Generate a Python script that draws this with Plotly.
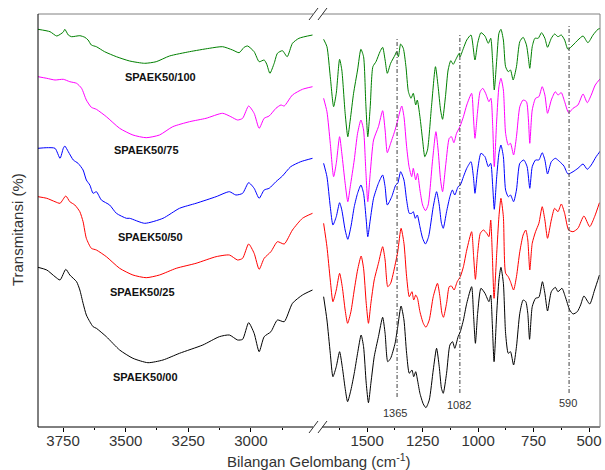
import plotly.graph_objects as go

# ---------------- data (wavenumber cm-1, relative transmittance, stacked) ----------------
# high-wavenumber panel (3850-2750)
wn_100_hi = [3850,3802,3775,3749,3743,3729,3716,3683,3663,3650,3637,3617,3584,3537,3484,3424,3378,3325,3245,3166,3113,3073,3047,3027,3013,2987,2967,2947,2937,2924,2907,2894,2874,2855,2834,2808,2754]
t_100_hi = [397.7,395.3,391,395,397.7,392,390.3,391.3,389.7,387,382,380.3,375.3,370.3,366,363.7,365.3,371,375.3,378.7,380.3,377,374.3,379.7,381,375.3,365.3,367,363,353.7,363.7,373.7,376.3,370.3,383.7,388.7,392]

wn_75_hi = [3850,3815,3782,3749,3723,3696,3676,3657,3637,3617,3577,3524,3471,3418,3365,3312,3245,3179,3113,3080,3053,3033,3009,2987,2967,2947,2927,2900,2880,2867,2834,2794,2754]
t_75_hi = [350.3,348.7,347,347.7,345.3,343.7,338.7,327,319.7,317.7,310.3,298.7,292,289.3,292,300.3,305.3,308.7,313.7,310.3,307,308.7,321,313.7,298.7,308.7,311,318.7,322,321,332,337.7,340.3]

wn_50_hi = [3850,3815,3782,3762,3749,3743,3729,3709,3690,3670,3657,3643,3630,3617,3597,3564,3537,3497,3484,3424,3351,3285,3219,3139,3086,3060,3033,3009,2987,2967,2947,2927,2900,2874,2841,2801,2754]
t_50_hi = [278.7,279.3,278.7,268.7,278.7,281,275.3,267,263.7,257,247,242,233.7,235.3,227,222,213.7,208.7,208.7,203.7,208.7,218.7,223.7,230.3,235.3,232,233.7,244.3,238.7,228.7,237,238.7,245.3,251,260.3,265.3,268.7]

wn_25_hi = [3850,3815,3782,3762,3739,3723,3703,3683,3670,3657,3637,3617,3577,3524,3471,3418,3365,3298,3219,3139,3086,3053,3033,3009,2987,2967,2947,2920,2894,2867,2834,2794,2754]
t_25_hi = [230.3,228.7,225.3,223.7,231,225.3,222,215.3,205.3,188.7,178.7,177,170.3,158.7,152,149.3,152,158.7,163.7,170.3,172,167,168.7,183,173.7,157.7,168.7,175.3,185.3,183,197,208.7,213.7]

wn_00_hi = [3850,3815,3782,3762,3739,3723,3696,3683,3670,3657,3643,3630,3617,3577,3524,3471,3411,3351,3285,3192,3126,3086,3053,3033,3009,2987,2967,2947,2920,2894,2867,2834,2794,2754]
t_00_hi = [159.7,157,150.3,147,157.7,152,145.3,137,123.7,112,105.3,100.3,98.7,90.3,77,68.7,64.3,67,73.7,82,90.3,92,87,87.7,104.3,93.7,75.3,90.3,95.3,107,105.3,123.7,132,137]

# low-wavenumber panel (1700-450)
wn_100_lo = [1696,1681,1666,1651,1639,1624,1614,1599,1587,1576,1561,1543,1528,1516,1506,1497,1486,1474,1460,1442,1430,1419,1409,1394,1374,1367,1359,1349,1337,1325,1314,1302,1292,1281,1274,1262,1250,1240,1228,1210,1192,1180,1169,1160,1147,1135,1123,1112,1100,1085,
             1081,1066,1051,1032,1014,1002,987,969,954,943,934,927,916,906,897,886,876,864,854,842,827,812,797,782,774,767,756,744,729,714,699,687,670,655,640,625,610,595,572,550,527,505,482,460,448]
t_100_lo = [387.7,380.3,350.3,320.3,333.7,367.7,357,313.7,290.3,307,333.7,357,377.7,370.3,323.7,290.3,320.3,360.3,365.3,375.3,379.7,367,353.7,363.7,372,375.3,370.3,383,378.7,360.3,335.3,328.7,333.7,322,327,310.3,287,270.3,277,320.3,360.3,340.3,317,307.7,330.3,357,366.3,362.7,367.7,373.7,
            370.3,378.7,387,392,367,383.7,394.3,391,383.7,388.7,363.7,337,367,393.7,397.7,387,360.3,355.3,357,347,360.3,385.3,389.7,382,370.3,358.7,380.3,388.7,388.7,394.3,388.7,379.7,388.7,393,390.3,392,387,377.7,382,387,391,384.3,392,397.7,398.7]

wn_75_lo = [1696,1681,1666,1651,1639,1624,1614,1599,1587,1576,1558,1543,1528,1516,1506,1497,1486,1471,1449,1430,1419,1409,1394,1374,1362,1344,1334,1322,1311,1299,1292,1281,1273,1262,1250,1237,1225,1205,1190,1180,1169,1160,1145,1130,1120,1109,1097,1082,
            1066,1051,1029,1021,1014,1003,991,979,966,951,942,934,927,916,906,897,886,876,864,854,840,827,812,797,782,773,767,756,741,726,711,699,687,670,652,640,625,610,592,572,550,527,508,490,472,448]
t_75_lo = [328.7,315.3,283.7,250.3,263.7,290.3,273.7,243.7,225.3,240.3,267,293.7,307,297,257,225.3,253.7,287,300.3,316.3,297,274.3,283.7,297,307,321,310.3,280.3,260.3,250.3,258.7,247,253.7,237,222,216.3,222,267,295.3,277,247,235.3,263.7,288.7,290.3,284.3,293.7,300.3,
           310.3,322,333.7,310.3,288.7,313.7,335.3,338.7,333.7,325.3,328.7,300.3,260.3,307,340.3,348.7,337,293.7,282,283.7,272,290.3,320.3,327,325.3,307,283.7,317,328.7,330.3,340.3,332,313.7,327,335.3,332,334.3,325.3,314.3,318.7,322,333,324.3,332,342,348.7]

wn_50_lo = [1696,1681,1666,1654,1639,1624,1614,1599,1587,1573,1558,1543,1528,1516,1504,1497,1486,1471,1449,1430,1419,1409,1389,1371,1362,1349,1334,1322,1310,1299,1292,1283,1274,1262,1250,1237,1223,1202,1187,1175,1165,1157,1142,1127,1116,1105,1090,1080,
            1066,1051,1032,1021,1014,1002,987,969,954,943,934,927,916,906,897,886,876,864,854,840,827,812,794,779,767,756,741,726,711,699,687,670,652,632,613,595,572,550,527,508,490,468,448]
t_50_lo = [263.7,250.3,220.3,202,210.3,224.3,217,197,187.7,200.3,220.3,233.7,242,233.7,207,190.3,207,228.7,243.7,252,240.3,222,230.3,242,243.7,255.3,247,227,213.7,213.7,215.3,208.7,212,200.3,188.7,183,190.3,220.3,235.3,222,203.7,198.7,215.3,230.3,237,232,240.3,242,
           250.3,258.7,265.3,250.3,233.7,257,273.7,270.3,260.3,263.7,240.3,217.7,250.3,273.7,282,270.3,237,230.3,232,225.3,237,263.7,267,260.3,238.7,260.3,267,267,274.3,267,253,265.3,268.7,265.3,261,253,255.3,258.7,263,257.7,262,270.3,276.3]

wn_25_lo = [1696,1681,1666,1654,1639,1624,1612,1599,1588,1573,1558,1543,1527,1516,1504,1494,1483,1468,1449,1430,1419,1407,1394,1374,1362,1347,1334,1322,1310,1298,1290,1281,1273,1262,1247,1235,1220,1202,1183,1172,1163,1156,1142,1130,1120,1108,1094,1080,
            1066,1051,1029,1020,1012,1002,990,976,961,951,943,936,928,916,906,897,886,876,864,854,840,827,812,797,785,776,767,756,741,726,711,699,687,670,655,640,625,610,592,572,550,523,497,475,453]
t_25_lo = [203.7,180.3,147,125.3,137,153.7,140.3,117,103.7,115.3,137,157,171,158.7,123.7,103.7,123.7,147,163.7,180.3,167,140.3,143.7,162,175.3,198.7,183.7,150.3,130.3,135.3,127,132,128.7,115.3,103.7,99.7,107,130.3,143.7,130.3,113.7,109.7,123.7,140.3,141,137,145.3,150.3,
           160.3,177,195.3,170.3,147.7,173.7,193.7,197,193.7,190.3,207,173.7,128.7,173.7,210.3,228.7,210.3,153.7,150.3,145.3,137,150.3,175.3,192,197,187,157,183.7,195.3,203.7,220.3,207,188.7,207,218.7,215.3,223,213.7,197,195.3,198.7,211,200.3,210.3,224.3]

wn_00_lo = [1696,1681,1666,1654,1639,1624,1612,1599,1588,1573,1558,1543,1527,1516,1504,1494,1483,1468,1449,1430,1419,1407,1394,1374,1362,1347,1334,1322,1310,1298,1290,1281,1273,1262,1247,1235,1220,1202,1187,1175,1165,1157,1142,1127,1115,1105,1090,1080,
            1066,1051,1029,1020,1012,1002,987,969,951,943,936,928,916,906,897,886,876,864,854,840,827,812,797,785,776,768,756,741,726,710,699,687,670,652,640,622,607,587,572,553,538,523,497,475,453]
t_00_lo = [130.3,107,73.7,50.3,60.3,75.3,60.3,38.7,25.3,37,53.7,73.7,92,80.3,43.7,24.3,43.7,70.3,90.3,109.7,93.7,65.3,68.7,83.7,100.3,121,107,73.7,53.7,57,50.3,55.3,47,33.7,23,19.3,27,57,78.7,60.3,38.7,33.7,53.7,82,85.3,78.7,90.3,95.3,
           107,123.7,140.3,110.3,83.7,113.7,138.7,133.7,125.3,132,103.7,65.3,113.7,147,159.7,143.7,93.7,73.7,75.3,62,80.3,113.7,127,125.3,113.7,87.7,120.3,128.7,129.7,145.3,133.7,116,135.3,139.7,135.3,138.7,130.3,117,113,115.3,122,131,123,137,152]

series_names = ["SPAEK50/100", "SPAEK50/75", "SPAEK50/50", "SPAEK50/25", "SPAEK50/00"]
series_colors = ["#008000", "#ff00ff", "#0000ff", "#ff0000", "#000000"]
hi_x = [wn_100_hi, wn_75_hi, wn_50_hi, wn_25_hi, wn_00_hi]
hi_y = [t_100_hi, t_75_hi, t_50_hi, t_25_hi, t_00_hi]
lo_x = [wn_100_lo, wn_75_lo, wn_50_lo, wn_25_lo, wn_00_lo]
lo_y = [t_100_lo, t_75_lo, t_50_lo, t_25_lo, t_00_lo]

hi_ticks = [3750, 3500, 3250, 3000]
hi_minor = [3625, 3375, 3125, 2875]
lo_ticks = [1500, 1250, 1000, 750, 500]
lo_minor = [1625, 1375, 1125, 875, 625]
marked_peaks = [1365, 1082, 590]

# ---------------- layout geometry ----------------
W, H = 605, 470
L, R, T, B = 38, 3, 14, 43
PW, PH = W - L - R, H - T - B
def px2x(px):
    return (px - L) / PW
def py2y(py):
    return (H - B - py) / PH

split = px2x(318)
FONT = "Liberation Sans, Arial, sans-serif"

fig = go.Figure()
for name, c, xs, ys in zip(series_names, series_colors, hi_x, hi_y):
    fig.add_trace(go.Scatter(x=xs, y=ys, mode="lines", name=name, xaxis="x", yaxis="y",
                             line=dict(color=c, width=1, shape="spline", smoothing=0.6), showlegend=False))
for name, c, xs, ys in zip(series_names, series_colors, lo_x, lo_y):
    fig.add_trace(go.Scatter(x=xs, y=ys, mode="lines", name=name, xaxis="x2", yaxis="y",
                             line=dict(color=c, width=1, shape="spline", smoothing=0.6), showlegend=False))

def xaxis_cfg(domain, rng, ticks, minor):
    return dict(domain=domain, range=rng, tickvals=ticks, anchor="y",
                showgrid=False, zeroline=False, showline=False, ticks="outside", ticklen=4,
                tickcolor="#000", tickwidth=1, ticklabelstandoff=-4,
                tickfont=dict(family=FONT, size=15, color="#333"),
                minor=dict(tickvals=minor, ticks="outside", ticklen=2, tickcolor="#000", tickwidth=1))

fig.update_layout(
    width=W, height=H, margin=dict(l=L, r=R, t=T, b=B),
    paper_bgcolor="white", plot_bgcolor="white",
    xaxis=xaxis_cfg([0, split], [3850, 2736], hi_ticks, hi_minor),
    xaxis2=xaxis_cfg([split, 1], [1725.8, 450.6], lo_ticks, lo_minor),
    yaxis=dict(range=[0, 413], showticklabels=False, ticks="", showgrid=False, zeroline=False,
               showline=False),
)

shapes = []
def pline(x0, y0, x1, y1, color, width=1):
    shapes.append(dict(type="line", xref="paper", yref="paper",
                       x0=px2x(x0), y0=py2y(y0), x1=px2x(x1), y1=py2y(y1),
                       line=dict(color=color, width=width)))
# frame
pline(38, 427, 314, 427, "#000")
pline(323, 427, 602, 427, "#000")
pline(38, 14, 314, 14, "#808080")
pline(323, 14, 602, 14, "#808080")
pline(38, 14, 38, 427, "#000")
pline(602, 14, 602, 427, "#808080")
# break marks
for yb in (14, 427):
    pline(310, yb + 6, 319, yb - 6, "#333")
    pline(319, yb + 6, 328, yb - 6, "#333")

# vertical dash-dot lines at marked peaks
peak_top = [389, 392, 401]
peak_bot = [30, 34, 34]
for p, yt, yb in zip(marked_peaks, peak_top, peak_bot):
    shapes.append(dict(type="line", xref="x2", yref="y", x0=p, x1=p, y0=yb, y1=yt,
                       line=dict(color="#404040", width=1, dash="4px,2px,1px,2px")))
fig.update_layout(shapes=shapes)

ann = []
label_px = [(161, 77), (147, 150), (151, 237), (143, 292), (146, 377)]
for name, (lx, ly) in zip(series_names, label_px):
    ann.append(dict(text="<b>" + name + "</b>", xref="paper", yref="paper", x=px2x(lx), y=py2y(ly),
                    showarrow=False, xanchor="center", yanchor="middle",
                    font=dict(family=FONT, size=11, color="#111")))
peak_lbl = [(1375, 14.3), (1084, 22), (595, 24.3)]
for p, (lx, ly) in zip(marked_peaks, peak_lbl):
    ann.append(dict(text=str(p), xref="x2", yref="y", x=lx, y=ly, showarrow=False,
                    xanchor="center", yanchor="middle",
                    font=dict(family=FONT, size=11, color="#333")))
ann.append(dict(text="Bilangan Gelombang (cm<sup>-1</sup>)", xref="paper", yref="paper",
                x=px2x(320), y=py2y(460), showarrow=False, xanchor="center", yanchor="middle",
                font=dict(family=FONT, size=15, color="#333")))
ann.append(dict(text="Transmitansi (%)", xref="paper", yref="paper", textangle=-90,
                x=px2x(17), y=py2y(230), showarrow=False, xanchor="center", yanchor="middle",
                font=dict(family=FONT, size=15, color="#333")))
fig.update_layout(annotations=ann)

fig.write_html("out.html")
